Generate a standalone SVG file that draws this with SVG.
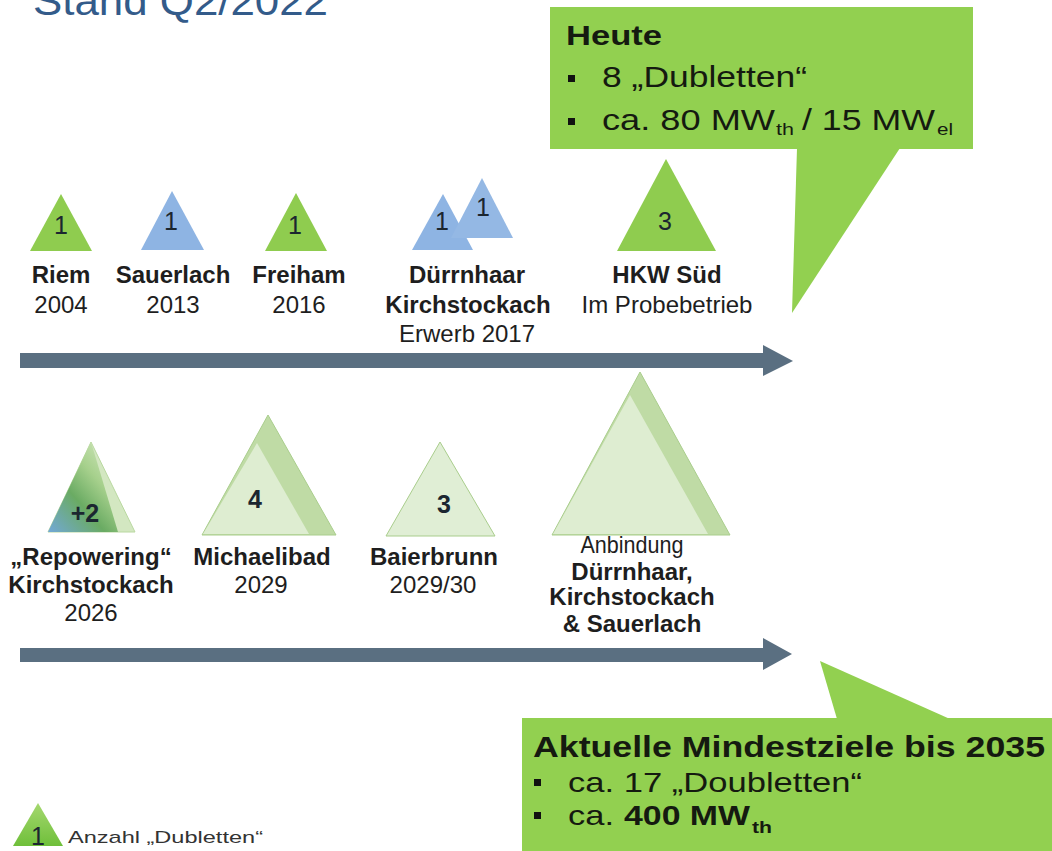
<svg xmlns="http://www.w3.org/2000/svg" width="1052" height="851" viewBox="0 0 1052 851">
<defs>
<style>
.f{font-family:"Liberation Sans",Arial,sans-serif}
.lbl{font-family:"Liberation Sans",Arial,sans-serif;font-size:24px;fill:#1e1e1e;text-anchor:middle}
.b{font-weight:bold}
.num{font-family:"Liberation Sans",Arial,sans-serif;font-size:25px;fill:#1b2630;text-anchor:middle}
.co{font-family:"Liberation Sans",Arial,sans-serif;fill:#151a10}
.green{fill:#8fcc4f}
.blue{fill:#8eb4e3}
.call{fill:#92d050}
.pale{fill:#e0eed5;stroke:#a9cd8c;stroke-width:1}
.mid{fill:#bfdba5;stroke:#a9cd8c;stroke-width:1}
.lite{fill:#deedd1}
.bar{fill:#5a6f81}
.bul{fill:#111}
</style>
<linearGradient id="rep" x1="0" y1="1" x2="0.8" y2="0.1">
<stop offset="0" stop-color="#72a8d8"/>
<stop offset="0.45" stop-color="#6aab63"/>
<stop offset="0.75" stop-color="#a6d08c"/>
<stop offset="1" stop-color="#c6e1b0"/>
</linearGradient>
<linearGradient id="leg" x1="0" y1="0" x2="0" y2="1">
<stop offset="0" stop-color="#a5d86f"/>
<stop offset="1" stop-color="#6fbf3a"/>
</linearGradient>
</defs>
<rect width="1052" height="851" fill="#ffffff"/>

<g id="title">
<text class="f" x="33" y="15" font-size="40" fill="#335b8a" textLength="295" lengthAdjust="spacingAndGlyphs">Stand Q2/2022</text>
</g>

<g id="connectors">
<rect class="bar" x="20" y="353" width="744" height="15"/>
<polygon class="bar" points="763,345 793,361 763,376"/>
<rect class="bar" x="20" y="648" width="744" height="14"/>
<polygon class="bar" points="763,638 792,654 763,670"/>
</g>

<g id="callout-heute">
<rect class="call" x="550" y="7" width="423" height="142"/>
<polygon class="call" points="797,148 900,148 792,313"/>
<text class="co b" x="566" y="45" font-size="28" textLength="96" lengthAdjust="spacingAndGlyphs">Heute</text>
<rect class="bul" x="568" y="75" width="7" height="7"/>
<text class="co" x="602" y="87" font-size="29" textLength="205" lengthAdjust="spacingAndGlyphs">8 „Dubletten“</text>
<rect class="bul" x="568" y="118" width="7" height="7"/>
<text class="co" x="602" y="130" font-size="29" textLength="173" lengthAdjust="spacingAndGlyphs">ca. 80 MW</text>
<text class="co" x="776" y="135" font-size="17" textLength="18" lengthAdjust="spacingAndGlyphs">th</text>
<text class="co" x="802" y="130" font-size="29" textLength="133" lengthAdjust="spacingAndGlyphs">/ 15 MW</text>
<text class="co" x="937" y="135" font-size="17" textLength="16" lengthAdjust="spacingAndGlyphs">el</text>
</g>

<g id="riem">
<polygon class="green" points="61,194 30,251 92,251"/>
<text class="num" x="61" y="234">1</text>
<text class="lbl b" x="61" y="283">Riem</text>
<text class="lbl" x="61" y="313">2004</text>
</g>

<g id="sauerlach">
<polygon class="blue" points="172,191 141,250 204,250"/>
<text class="num" x="171" y="230">1</text>
<text class="lbl b" x="173" y="283">Sauerlach</text>
<text class="lbl" x="173" y="313">2013</text>
</g>

<g id="freiham">
<polygon class="green" points="296,193 265,251 327,251"/>
<text class="num" x="295" y="234">1</text>
<text class="lbl b" x="299" y="283">Freiham</text>
<text class="lbl" x="299" y="313">2016</text>
</g>

<g id="duerrnhaar">
<polygon class="blue" points="443,194 412,250 473,250"/>
<polygon fill="#94b8e4" points="482,178 451,238 513,238"/>
<text class="num" x="442" y="230">1</text>
<text class="num" x="483" y="216">1</text>
<text class="lbl b" x="467" y="283">Dürrnhaar</text>
<text class="lbl b" x="468" y="313">Kirchstockach</text>
<text class="lbl" x="467" y="342">Erwerb 2017</text>
</g>

<g id="hkw">
<polygon class="green" points="666,159 617,251 716,251"/>
<text class="num" x="665" y="230" font-size="27">3</text>
<text class="lbl b" x="667" y="283">HKW Süd</text>
<text class="lbl" x="667" y="313" textLength="171" lengthAdjust="spacingAndGlyphs">Im Probebetrieb</text>
</g>

<g id="repowering">
<polygon fill="#d3e7c1" stroke="#b9d8a0" points="91,442 48,532 135,532"/>
<polygon fill="url(#rep)" points="91,442 48,532 118,532"/>
<text class="num b" x="85" y="522" font-size="24">+2</text>
<text class="lbl b" x="91" y="565">„Repowering“</text>
<text class="lbl b" x="91" y="593">Kirchstockach</text>
<text class="lbl" x="91" y="621">2026</text>
</g>

<g id="michaelibad">
<polygon class="mid" points="268,415 202,535 336,535"/>
<polygon class="lite" points="257,443 203,534 309,534"/>
<text class="num b" x="255" y="508" font-size="26">4</text>
<text class="lbl b" x="262" y="565">Michaelibad</text>
<text class="lbl" x="261" y="593">2029</text>
</g>

<g id="baierbrunn">
<polygon class="pale" points="440,442 386,536 495,536"/>
<text class="num b" x="444" y="513" font-size="26">3</text>
<text class="lbl b" x="434" y="565">Baierbrunn</text>
<text class="lbl" x="433" y="593">2029/30</text>
</g>

<g id="anbindung">
<polygon class="mid" points="640,372 552,535 730,535"/>
<polygon class="lite" points="630,395 553,534 708,534"/>
<text class="lbl" x="632" y="553" font-size="17" textLength="103" lengthAdjust="spacingAndGlyphs">Anbindung</text>
<text class="lbl b" x="632" y="580" font-size="21">Dürrnhaar,</text>
<text class="lbl b" x="632" y="605" font-size="21">Kirchstockach</text>
<text class="lbl b" x="632" y="632" font-size="21">&amp; Sauerlach</text>
</g>

<g id="callout-ziele">
<rect class="call" x="522" y="718" width="530" height="133"/>
<polygon class="call" points="820,661 837,719 950,719"/>
<text class="co b" x="533" y="757" font-size="30" textLength="512" lengthAdjust="spacingAndGlyphs">Aktuelle Mindestziele bis 2035</text>
<rect class="bul" x="534" y="779" width="7" height="7"/>
<text class="co" x="568" y="792" font-size="28" textLength="294" lengthAdjust="spacingAndGlyphs">ca. 17 „Doubletten“</text>
<rect class="bul" x="534" y="812" width="7" height="7"/>
<text class="co" x="568" y="825" font-size="28" textLength="46" lengthAdjust="spacingAndGlyphs">ca.</text>
<text class="co b" x="624" y="825" font-size="28" textLength="126" lengthAdjust="spacingAndGlyphs">400 MW</text>
<text class="co b" x="752" y="833" font-size="17" textLength="20" lengthAdjust="spacingAndGlyphs">th</text>
</g>

<g id="legend">
<polygon fill="url(#leg)" points="38,803 13,846 63,846"/>
<text class="num" x="38" y="845" font-size="22">1</text>
<text class="f" x="68" y="843" font-size="17" fill="#333" textLength="195" lengthAdjust="spacingAndGlyphs">Anzahl „Dubletten“</text>
</g>
</svg>
